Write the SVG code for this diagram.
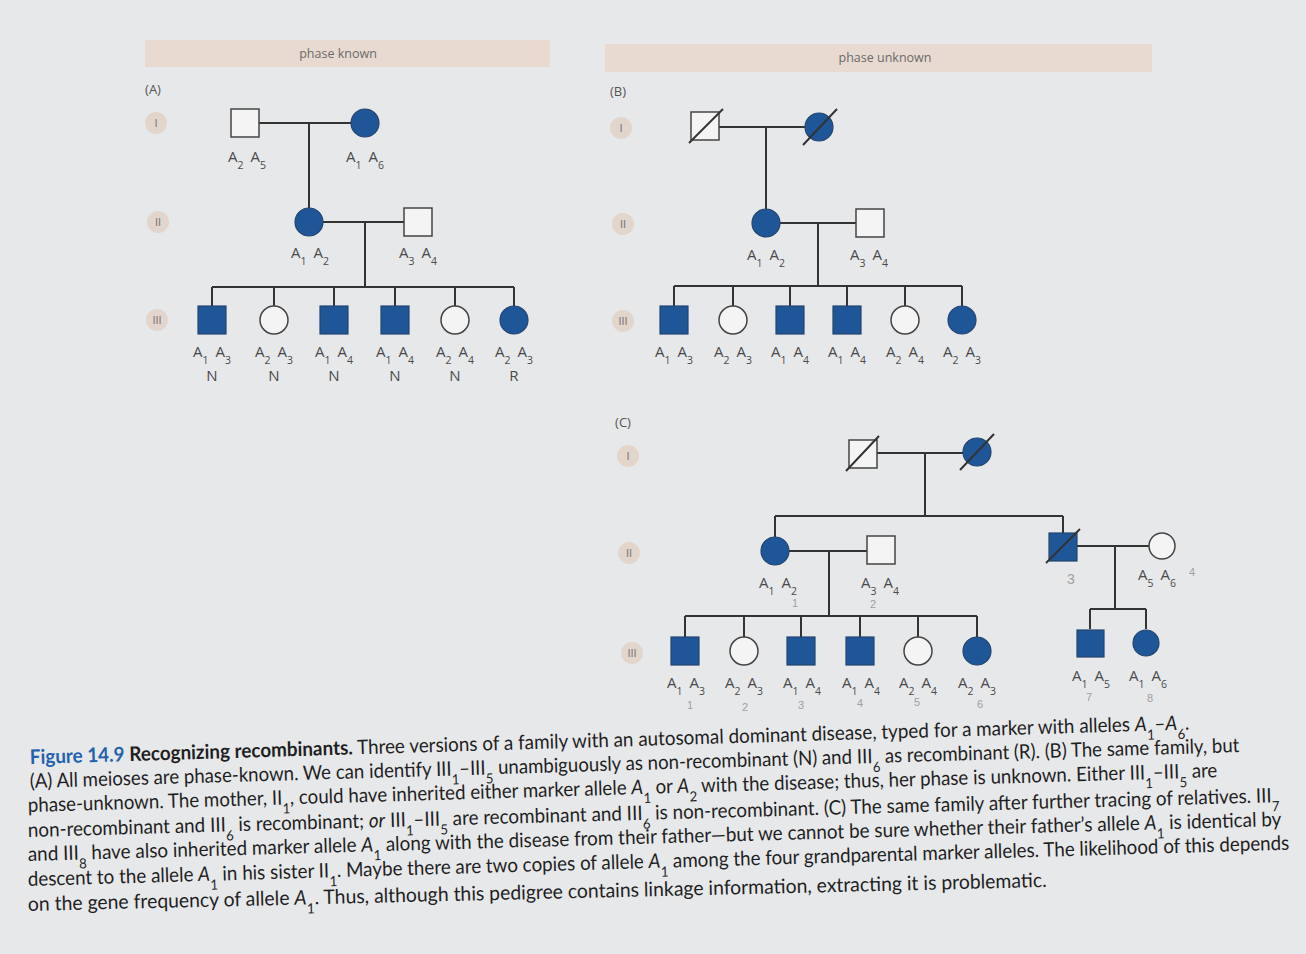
<svg xmlns="http://www.w3.org/2000/svg" width="1306" height="954" viewBox="0 0 1306 954">
<style>
.bg{fill:#e7e8ea}
.bar{fill:#e9dad1}
.bartx{font-family:"Open Sans","Liberation Sans",sans-serif;font-size:12.5px;fill:#6a6a6a;text-anchor:middle}
.pl{font-family:"Open Sans","Liberation Sans",sans-serif;font-size:13px;fill:#555;text-anchor:middle}
.gc{fill:#e2d5cc}
.gt{font-family:"Liberation Sans",sans-serif;font-size:11px;fill:#7a7a7a;text-anchor:middle}
.ln{stroke:#333;stroke-width:2;fill:none}
.f{fill:#1f5698;stroke:#24456e;stroke-width:1.2}
.o{fill:#f4f4f4;stroke:#444;stroke-width:1.5}
.sl{stroke:#333;stroke-width:2}
.al{font-family:"Open Sans","Liberation Sans",sans-serif;font-size:15px;fill:#4a4a4a;text-anchor:middle;word-spacing:3px}
.s{font-size:10.5px;baseline-shift:sub}
.nr{font-family:"Open Sans","Liberation Sans",sans-serif;font-size:15px;fill:#4a4a4a;text-anchor:middle}
.pen{font-family:"Liberation Sans",sans-serif;font-size:11px;fill:#a0a0a0;text-anchor:middle}
.cap{font-family:Lato,"Liberation Sans",sans-serif;font-size:20px;fill:#1f1f1f}
.fig{fill:#1f62ad;font-weight:bold}
.b{font-weight:bold}
.i{font-style:italic}
.sb{font-size:70%;baseline-shift:sub}
</style>
<rect class="bg" x="0" y="0" width="1306" height="954"/>

<!-- header bars -->
<g id="headers">
<rect class="bar" x="145" y="40" width="405" height="27"/>
<text class="bartx" x="338" y="58">phase known</text>
<rect class="bar" x="605" y="44" width="547" height="28"/>
<text class="bartx" x="885" y="62">phase unknown</text>
</g>

<!-- panel labels and generation markers -->
<g id="panel-labels">
<text class="pl" x="153" y="94">(A)</text>
<text class="pl" x="618" y="96">(B)</text>
<text class="pl" x="623" y="427">(C)</text>
<circle class="gc" cx="156" cy="123" r="11"/><text class="gt" x="156" y="127">I</text>
<circle class="gc" cx="158" cy="222" r="11"/><text class="gt" x="158" y="226">II</text>
<circle class="gc" cx="157" cy="320" r="11"/><text class="gt" x="157" y="324">III</text>
<circle class="gc" cx="621" cy="128" r="11"/><text class="gt" x="621" y="132">I</text>
<circle class="gc" cx="623" cy="224" r="11"/><text class="gt" x="623" y="228">II</text>
<circle class="gc" cx="623" cy="321" r="11"/><text class="gt" x="623" y="325">III</text>
<circle class="gc" cx="628" cy="456" r="11"/><text class="gt" x="628" y="460">I</text>
<circle class="gc" cx="629" cy="553" r="11"/><text class="gt" x="629" y="557">II</text>
<circle class="gc" cx="632" cy="653" r="11"/><text class="gt" x="632" y="657">III</text>
</g>

<!-- connectors -->
<g id="connectors" class="ln">
<path d="M259 123H351 M309 123V208 M323 222H404 M365 222V287 M212 287H514 M212 287V306 M274 287V306 M334 287V306 M395 287V306 M455 287V306 M514 287V306"/>
<path d="M719 127H805 M766 127V209 M780 223H856 M818 223V286 M674 286H962 M674 286V306 M733 286V306 M790 286V306 M847 286V306 M905 286V306 M962 286V306"/>
<path d="M876 453H963 M925 453V516 M775 516H1063 M775 516V537 M1063 516V533 M789 551H867 M829 551V616 M685 616H977 M685 616V637 M744 616V637 M801 616V637 M860 616V637 M918 616V637 M977 616V637 M1077 546H1149 M1115 546V609 M1090 609H1146 M1090 609V629 M1146 609V629"/>
</g>

<!-- Panel A nodes -->
<g id="A-I1"><rect class="o" x="231" y="109" width="28" height="28"/><text class="al" x="247" y="162">A<tspan class="s">2</tspan> A<tspan class="s">5</tspan></text></g>
<g id="A-I2"><circle class="f" cx="365" cy="123" r="14"/><text class="al" x="365" y="162">A<tspan class="s">1</tspan> A<tspan class="s">6</tspan></text></g>
<g id="A-II1"><circle class="f" cx="309" cy="222" r="14"/><text class="al" x="310" y="258">A<tspan class="s">1</tspan> A<tspan class="s">2</tspan></text></g>
<g id="A-II2"><rect class="o" x="404" y="208" width="28" height="28"/><text class="al" x="418" y="258">A<tspan class="s">3</tspan> A<tspan class="s">4</tspan></text></g>
<g id="A-III1"><rect class="f" x="198" y="306" width="28" height="28"/><text class="al" x="212" y="357">A<tspan class="s">1</tspan> A<tspan class="s">3</tspan></text><text class="nr" x="212" y="381">N</text></g>
<g id="A-III2"><circle class="o" cx="274" cy="320" r="14"/><text class="al" x="274" y="357">A<tspan class="s">2</tspan> A<tspan class="s">3</tspan></text><text class="nr" x="274" y="381">N</text></g>
<g id="A-III3"><rect class="f" x="320" y="306" width="28" height="28"/><text class="al" x="334" y="357">A<tspan class="s">1</tspan> A<tspan class="s">4</tspan></text><text class="nr" x="334" y="381">N</text></g>
<g id="A-III4"><rect class="f" x="381" y="306" width="28" height="28"/><text class="al" x="395" y="357">A<tspan class="s">1</tspan> A<tspan class="s">4</tspan></text><text class="nr" x="395" y="381">N</text></g>
<g id="A-III5"><circle class="o" cx="455" cy="320" r="14"/><text class="al" x="455" y="357">A<tspan class="s">2</tspan> A<tspan class="s">4</tspan></text><text class="nr" x="455" y="381">N</text></g>
<g id="A-III6"><circle class="f" cx="514" cy="320" r="14"/><text class="al" x="514" y="357">A<tspan class="s">2</tspan> A<tspan class="s">3</tspan></text><text class="nr" x="514" y="381">R</text></g>

<!-- Panel B nodes -->
<g id="B-I1"><rect class="o" x="691" y="112" width="28" height="28"/><line class="sl" x1="689" y1="143" x2="723" y2="109"/></g>
<g id="B-I2"><circle class="f" cx="819" cy="127" r="14"/><line class="sl" x1="803" y1="145" x2="837" y2="109"/></g>
<g id="B-II1"><circle class="f" cx="766" cy="223" r="14"/><text class="al" x="766" y="260">A<tspan class="s">1</tspan> A<tspan class="s">2</tspan></text></g>
<g id="B-II2"><rect class="o" x="856" y="209" width="28" height="28"/><text class="al" x="869" y="260">A<tspan class="s">3</tspan> A<tspan class="s">4</tspan></text></g>
<g id="B-III1"><rect class="f" x="660" y="306" width="28" height="28"/><text class="al" x="674" y="357">A<tspan class="s">1</tspan> A<tspan class="s">3</tspan></text></g>
<g id="B-III2"><circle class="o" cx="733" cy="320" r="14"/><text class="al" x="733" y="357">A<tspan class="s">2</tspan> A<tspan class="s">3</tspan></text></g>
<g id="B-III3"><rect class="f" x="776" y="306" width="28" height="28"/><text class="al" x="790" y="357">A<tspan class="s">1</tspan> A<tspan class="s">4</tspan></text></g>
<g id="B-III4"><rect class="f" x="833" y="306" width="28" height="28"/><text class="al" x="847" y="357">A<tspan class="s">1</tspan> A<tspan class="s">4</tspan></text></g>
<g id="B-III5"><circle class="o" cx="905" cy="320" r="14"/><text class="al" x="905" y="357">A<tspan class="s">2</tspan> A<tspan class="s">4</tspan></text></g>
<g id="B-III6"><circle class="f" cx="962" cy="320" r="14"/><text class="al" x="962" y="357">A<tspan class="s">2</tspan> A<tspan class="s">3</tspan></text></g>

<!-- Panel C nodes -->
<g id="C-I1"><rect class="o" x="849" y="440" width="28" height="28"/><line class="sl" x1="846" y1="471" x2="879" y2="436"/></g>
<g id="C-I2"><circle class="f" cx="977" cy="452" r="14"/><line class="sl" x1="960" y1="470" x2="994" y2="434"/></g>
<g id="C-II1"><circle class="f" cx="775" cy="551" r="14"/><text class="al" x="778" y="588">A<tspan class="s">1</tspan> A<tspan class="s">2</tspan></text><text class="pen" x="795" y="607">1</text></g>
<g id="C-II2"><rect class="o" x="867" y="536" width="28" height="28"/><text class="al" x="880" y="588">A<tspan class="s">3</tspan> A<tspan class="s">4</tspan></text><text class="pen" x="873" y="608">2</text></g>
<g id="C-II3"><rect class="f" x="1049" y="533" width="28" height="28"/><line class="sl" x1="1046" y1="563" x2="1080" y2="529"/><text class="pen" x="1071" y="584" style="font-size:14px">3</text></g>
<g id="C-II4"><circle class="o" cx="1162" cy="546" r="13"/><text class="al" x="1157" y="580">A<tspan class="s">5</tspan> A<tspan class="s">6</tspan></text><text class="pen" x="1192" y="576">4</text></g>
<g id="C-III1"><rect class="f" x="671" y="637" width="28" height="28"/><text class="al" x="686" y="688">A<tspan class="s">1</tspan> A<tspan class="s">3</tspan></text><text class="pen" x="690" y="709">1</text></g>
<g id="C-III2"><circle class="o" cx="744" cy="651" r="14"/><text class="al" x="744" y="688">A<tspan class="s">2</tspan> A<tspan class="s">3</tspan></text><text class="pen" x="745" y="711">2</text></g>
<g id="C-III3"><rect class="f" x="787" y="637" width="28" height="28"/><text class="al" x="802" y="688">A<tspan class="s">1</tspan> A<tspan class="s">4</tspan></text><text class="pen" x="801" y="709">3</text></g>
<g id="C-III4"><rect class="f" x="846" y="637" width="28" height="28"/><text class="al" x="861" y="688">A<tspan class="s">1</tspan> A<tspan class="s">4</tspan></text><text class="pen" x="860" y="707">4</text></g>
<g id="C-III5"><circle class="o" cx="918" cy="651" r="14"/><text class="al" x="918" y="688">A<tspan class="s">2</tspan> A<tspan class="s">4</tspan></text><text class="pen" x="917" y="706">5</text></g>
<g id="C-III6"><circle class="f" cx="977" cy="651" r="14"/><text class="al" x="977" y="688">A<tspan class="s">2</tspan> A<tspan class="s">3</tspan></text><text class="pen" x="980" y="708">6</text></g>
<g id="C-III7"><rect class="f" x="1077" y="630" width="27" height="27"/><text class="al" x="1091" y="681">A<tspan class="s">1</tspan> A<tspan class="s">5</tspan></text><text class="pen" x="1089" y="701">7</text></g>
<g id="C-III8"><circle class="f" cx="1146" cy="643" r="13"/><text class="al" x="1148" y="681">A<tspan class="s">1</tspan> A<tspan class="s">6</tspan></text><text class="pen" x="1150" y="702">8</text></g>

<!-- caption -->
<g id="caption">
<text class="cap" x="30" y="764" transform="rotate(-1.7 30 764)" textLength="1160" lengthAdjust="spacingAndGlyphs"><tspan class="fig">Figure 14.9</tspan> <tspan class="b">Recognizing recombinants.</tspan> Three versions of a family with an autosomal dominant disease, typed for a marker with alleles <tspan class="i">A</tspan><tspan class="sb">1</tspan>–<tspan class="i">A</tspan><tspan class="sb">6</tspan>.</text>
<text class="cap" x="30" y="788" transform="rotate(-1.7 30 788)" textLength="1210" lengthAdjust="spacingAndGlyphs">(A) All meioses are phase-known. We can identify III<tspan class="sb">1</tspan>–III<tspan class="sb">5</tspan> unambiguously as non-recombinant (N) and III<tspan class="sb">6</tspan> as recombinant (R). (B) The same family, but</text>
<text class="cap" x="28" y="812" transform="rotate(-1.68 28 812)" textLength="1190" lengthAdjust="spacingAndGlyphs">phase-unknown. The mother, II<tspan class="sb">1</tspan>, could have inherited either marker allele <tspan class="i">A</tspan><tspan class="sb">1</tspan> or <tspan class="i">A</tspan><tspan class="sb">2</tspan> with the disease; thus, her phase is unknown. Either III<tspan class="sb">1</tspan>–III<tspan class="sb">5</tspan> are</text>
<text class="cap" x="28" y="837" transform="rotate(-1.6 28 837)" textLength="1252" lengthAdjust="spacingAndGlyphs">non-recombinant and III<tspan class="sb">6</tspan> is recombinant; <tspan class="i">or</tspan> III<tspan class="sb">1</tspan>–III<tspan class="sb">5</tspan> are recombinant and III<tspan class="sb">6</tspan> is non-recombinant. (C) The same family after further tracing of relatives. III<tspan class="sb">7</tspan></text>
<text class="cap" x="28" y="861" transform="rotate(-1.6 28 861)" textLength="1254" lengthAdjust="spacingAndGlyphs">and III<tspan class="sb">8</tspan> have also inherited marker allele <tspan class="i">A</tspan><tspan class="sb">1</tspan> along with the disease from their father—but we cannot be sure whether their father’s allele <tspan class="i">A</tspan><tspan class="sb">1</tspan> is identical by</text>
<text class="cap" x="28" y="886" transform="rotate(-1.65 28 886)" textLength="1262" lengthAdjust="spacingAndGlyphs">descent to the allele <tspan class="i">A</tspan><tspan class="sb">1</tspan> in his sister II<tspan class="sb">1</tspan>. Maybe there are two copies of allele <tspan class="i">A</tspan><tspan class="sb">1</tspan> among the four grandparental marker alleles. The likelihood of this depends</text>
<text class="cap" x="28" y="911" transform="rotate(-1.35 28 911)" textLength="1019" lengthAdjust="spacingAndGlyphs">on the gene frequency of allele <tspan class="i">A</tspan><tspan class="sb">1</tspan>. Thus, although this pedigree contains linkage information, extracting it is problematic.</text>
</g>
</svg>
